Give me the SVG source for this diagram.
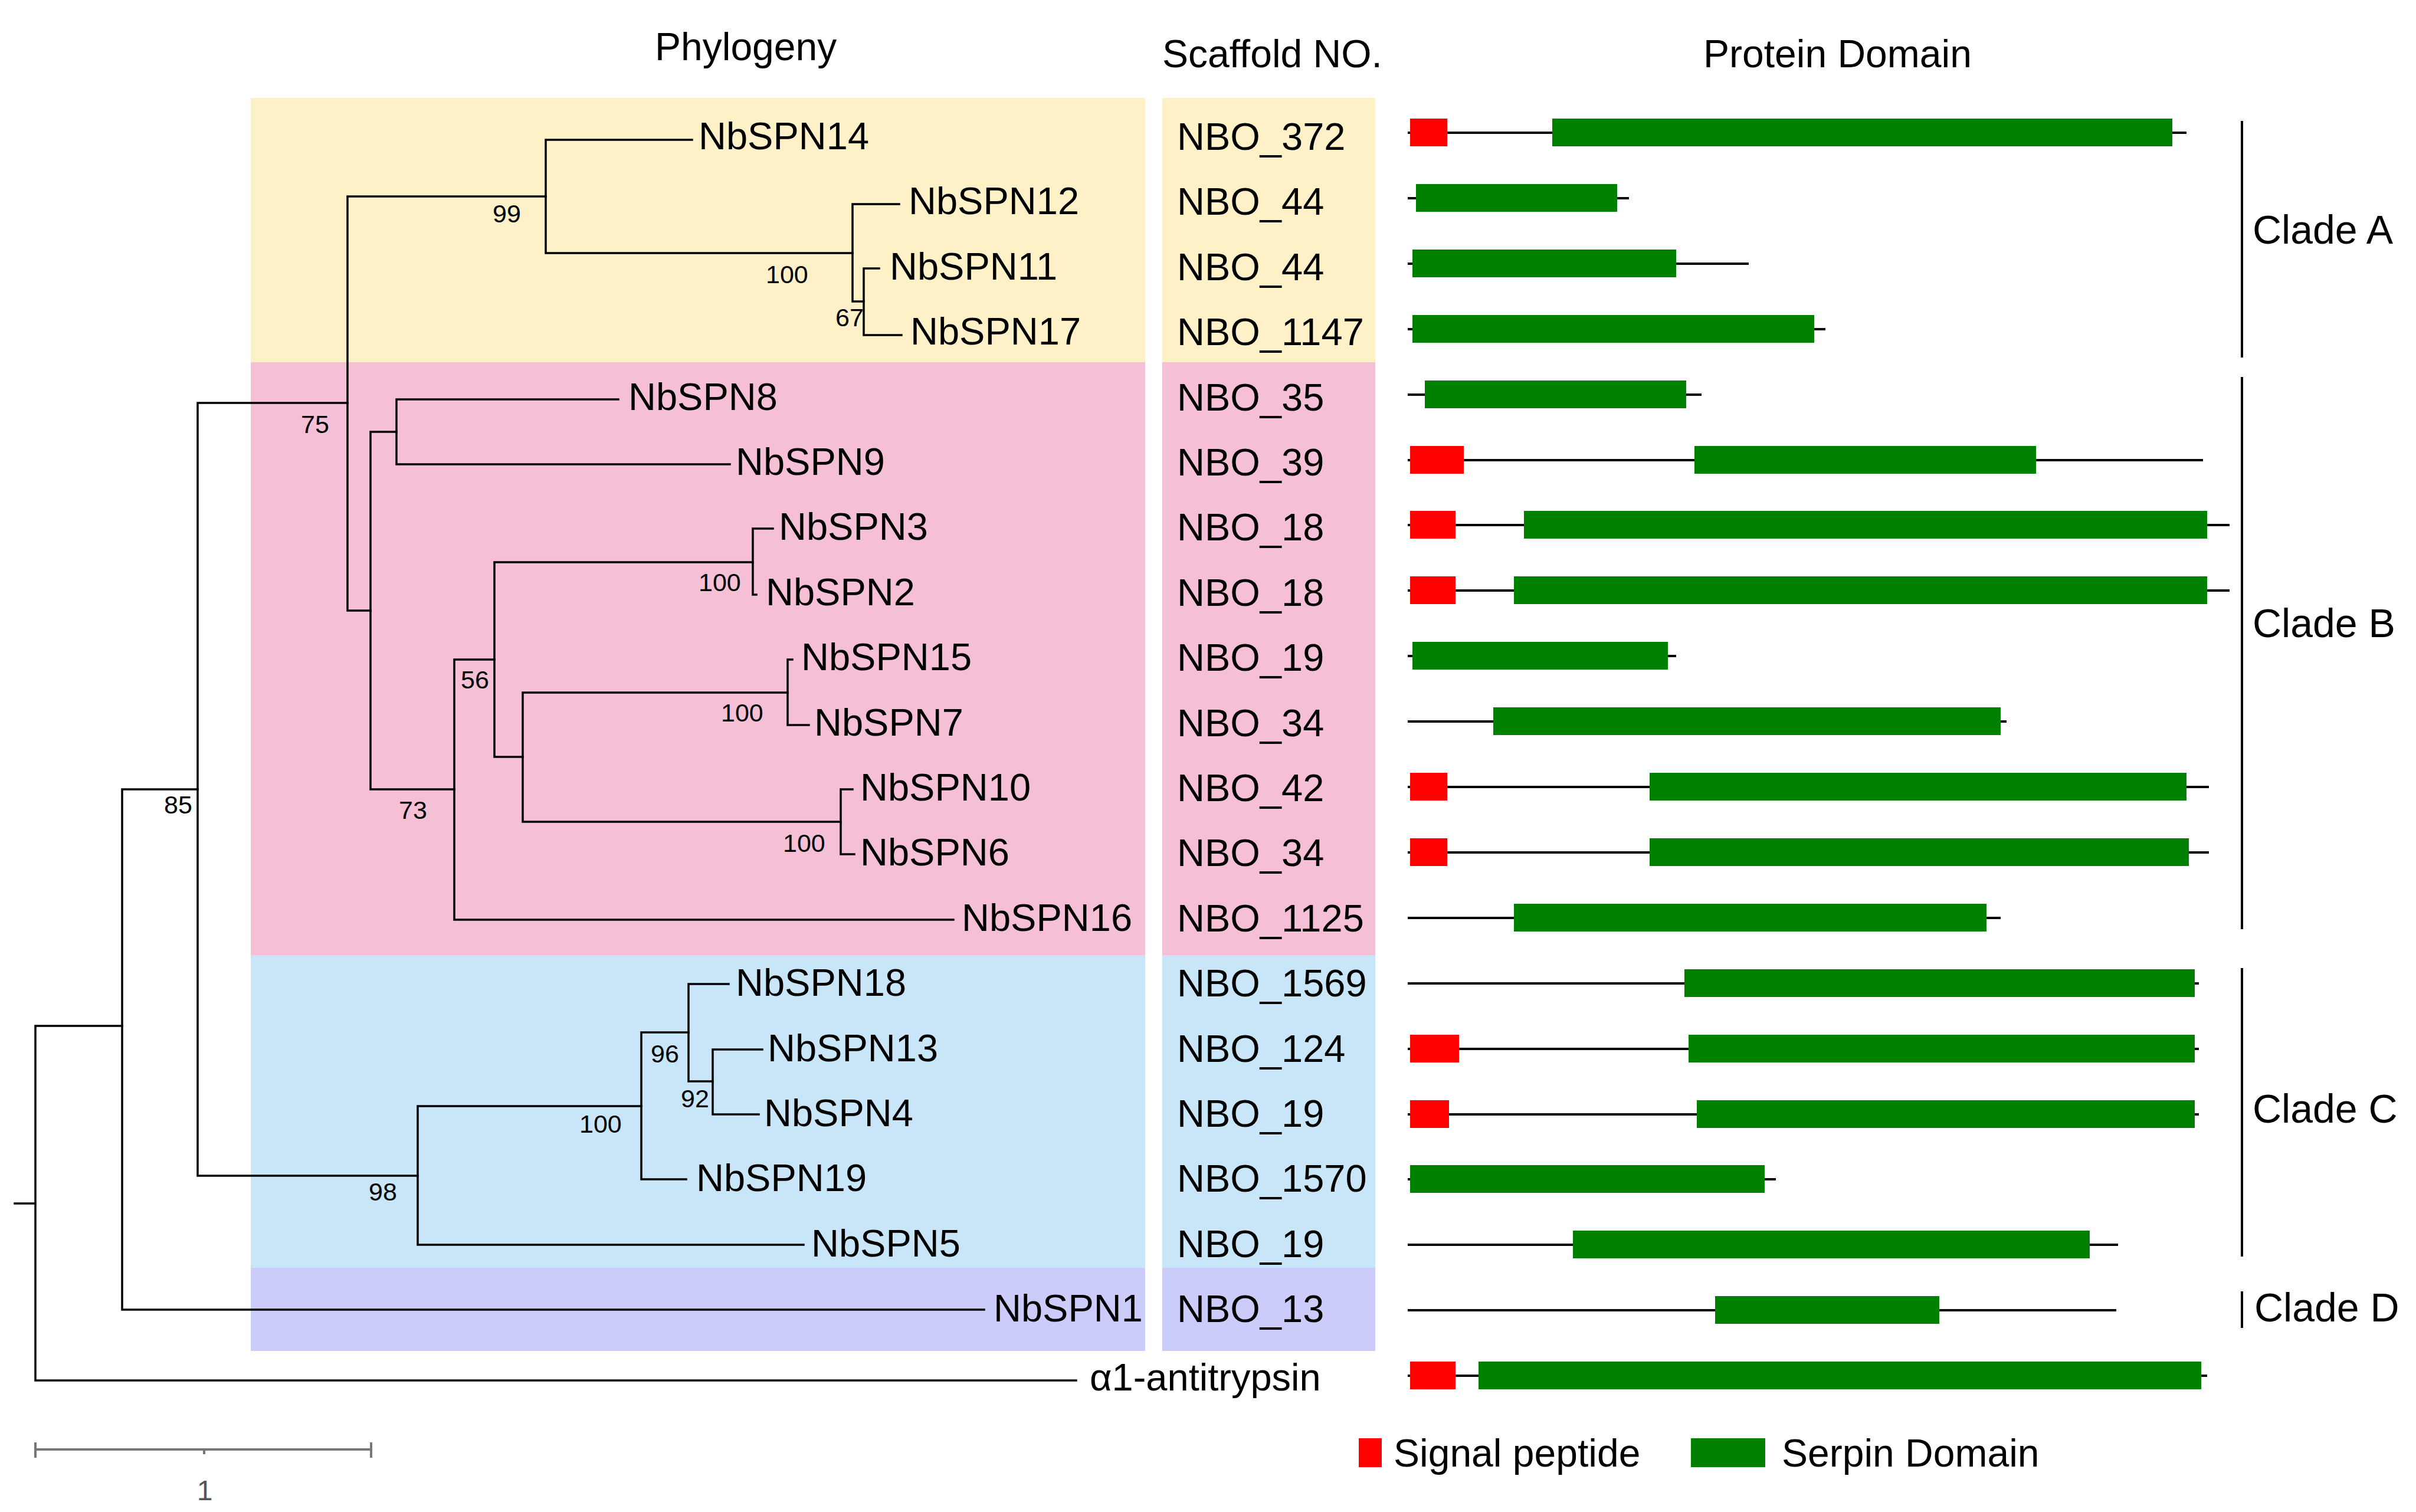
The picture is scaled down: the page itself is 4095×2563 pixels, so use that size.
<svg xmlns="http://www.w3.org/2000/svg" width="4095" height="2563" viewBox="0 0 4095 2563">
<style>
text{font-family:"Liberation Sans",Arial,sans-serif;fill:#000}
.hdr{font-size:66px}
.tx{font-size:65px}
.bs{font-size:43px}
.cl{font-size:68px}
.br{fill:none;stroke:#000;stroke-width:3.5;stroke-linecap:square}
.dl{stroke:#000;stroke-width:4}
.sp{fill:#ff0000}
.sd{fill:#008000}
.cb{stroke:#000;stroke-width:4}
</style>
<rect width="4095" height="2563" fill="#fff"/>
<g id="backgrounds">
<rect x="425" y="166" width="1516" height="448" fill="#fef1c8"/>
<rect x="425" y="614" width="1516" height="1005" fill="#f5c0d6"/>
<rect x="425" y="1619" width="1516" height="530" fill="#c8e6f8"/>
<rect x="425" y="2149" width="1516" height="141" fill="#ccccfa"/>
<rect x="1970" y="166" width="361" height="448" fill="#fef1c8"/>
<rect x="1970" y="614" width="361" height="1005" fill="#f5c0d6"/>
<rect x="1970" y="1619" width="361" height="530" fill="#c8e6f8"/>
<rect x="1970" y="2149" width="361" height="141" fill="#ccccfa"/>
</g>
<g id="headers">
<text class="hdr" x="1110" y="102">Phylogeny</text>
<text class="hdr" x="1970" y="114">Scaffold NO.</text>
<text class="hdr" x="2887" y="114">Protein Domain</text>
</g>
<g id="connectors">
<path class="br" d="M25,2040H60M60,1739V2340M60,1739H207M60,2340H1824"/>
<path class="br" d="M207,1338V2220M207,1338H335M207,2220H1668"/>
<path class="br" d="M335,683V1993M335,683H589M335,1993H708"/>
<path class="br" d="M589,333V1035M589,333H925M589,1035H628"/>
<path class="br" d="M925,237V429M925,237H1173M925,429H1445"/>
<path class="br" d="M1445,346V511M1445,346H1524M1445,511H1464"/>
<path class="br" d="M1464,455V568M1464,455H1490M1464,568H1528"/>
<path class="br" d="M628,732V1338M628,732H672M628,1338H770"/>
<path class="br" d="M672,677V787M672,677H1048M672,787H1237"/>
<path class="br" d="M770,1118V1559M770,1118H838M770,1559H1616"/>
<path class="br" d="M838,953V1283M838,953H1276M838,1283H886"/>
<path class="br" d="M1276,896V1008M1276,896H1310M1276,1008H1282"/>
<path class="br" d="M886,1174V1393M886,1174H1335M886,1393H1425"/>
<path class="br" d="M1335,1118V1229M1335,1118H1343M1335,1229H1371"/>
<path class="br" d="M1425,1338V1448M1425,1338H1445M1425,1448H1448"/>
<path class="br" d="M708,1875V2110M708,1875H1087M708,2110H1362"/>
<path class="br" d="M1087,1750V1999M1087,1750H1167M1087,1999H1163"/>
<path class="br" d="M1167,1668V1833M1167,1668H1235M1167,1833H1208"/>
<path class="br" d="M1208,1779V1889M1208,1779H1292M1208,1889H1286"/>
</g>
<g id="bootstrap">
<text class="bs" x="835" y="377">99</text>
<text class="bs" x="1298" y="480">100</text>
<text class="bs" x="1416" y="553">67</text>
<text class="bs" x="510" y="734">75</text>
<text class="bs" x="1184" y="1002">100</text>
<text class="bs" x="781" y="1167">56</text>
<text class="bs" x="1222" y="1223">100</text>
<text class="bs" x="676" y="1388">73</text>
<text class="bs" x="1327" y="1444">100</text>
<text class="bs" x="278" y="1379">85</text>
<text class="bs" x="1103" y="1801">96</text>
<text class="bs" x="1154" y="1877">92</text>
<text class="bs" x="982" y="1920">100</text>
<text class="bs" x="625" y="2035">98</text>
</g>
<g id="taxa">
<g id="NbSPN14"><text class="tx" x="1184" y="253">NbSPN14</text><text class="tx" x="1995" y="254">NBO_372</text></g>
<g id="NbSPN12"><text class="tx" x="1540" y="363">NbSPN12</text><text class="tx" x="1995" y="364">NBO_44</text></g>
<g id="NbSPN11"><text class="tx" x="1508" y="474">NbSPN11</text><text class="tx" x="1995" y="475">NBO_44</text></g>
<g id="NbSPN17"><text class="tx" x="1543" y="584">NbSPN17</text><text class="tx" x="1995" y="585">NBO_1147</text></g>
<g id="NbSPN8"><text class="tx" x="1065" y="695">NbSPN8</text><text class="tx" x="1995" y="696">NBO_35</text></g>
<g id="NbSPN9"><text class="tx" x="1247" y="805">NbSPN9</text><text class="tx" x="1995" y="806">NBO_39</text></g>
<g id="NbSPN3"><text class="tx" x="1320" y="915">NbSPN3</text><text class="tx" x="1995" y="916">NBO_18</text></g>
<g id="NbSPN2"><text class="tx" x="1298" y="1026">NbSPN2</text><text class="tx" x="1995" y="1027">NBO_18</text></g>
<g id="NbSPN15"><text class="tx" x="1358" y="1136">NbSPN15</text><text class="tx" x="1995" y="1137">NBO_19</text></g>
<g id="NbSPN7"><text class="tx" x="1380" y="1247">NbSPN7</text><text class="tx" x="1995" y="1248">NBO_34</text></g>
<g id="NbSPN10"><text class="tx" x="1458" y="1357">NbSPN10</text><text class="tx" x="1995" y="1358">NBO_42</text></g>
<g id="NbSPN6"><text class="tx" x="1458" y="1467">NbSPN6</text><text class="tx" x="1995" y="1468">NBO_34</text></g>
<g id="NbSPN16"><text class="tx" x="1630" y="1578">NbSPN16</text><text class="tx" x="1995" y="1579">NBO_1125</text></g>
<g id="NbSPN18"><text class="tx" x="1247" y="1688">NbSPN18</text><text class="tx" x="1995" y="1689">NBO_1569</text></g>
<g id="NbSPN13"><text class="tx" x="1301" y="1799">NbSPN13</text><text class="tx" x="1995" y="1800">NBO_124</text></g>
<g id="NbSPN4"><text class="tx" x="1295" y="1909">NbSPN4</text><text class="tx" x="1995" y="1910">NBO_19</text></g>
<g id="NbSPN19"><text class="tx" x="1180" y="2019">NbSPN19</text><text class="tx" x="1995" y="2020">NBO_1570</text></g>
<g id="NbSPN5"><text class="tx" x="1375" y="2130">NbSPN5</text><text class="tx" x="1995" y="2131">NBO_19</text></g>
<g id="NbSPN1"><text class="tx" x="1684" y="2240">NbSPN1</text><text class="tx" x="1995" y="2241">NBO_13</text></g>
<g id="a1-antitrypsin"><text class="tx" x="1847" y="2357">α1-antitrypsin</text></g>
</g>
<g id="domains">
<g id="dom0"><line class="dl" x1="2386" y1="225" x2="3706" y2="225"/><rect class="sp" x="2390" y="201" width="63" height="47"/><rect class="sd" x="2631" y="201" width="1051" height="47"/></g>
<g id="dom1"><line class="dl" x1="2386" y1="336" x2="2761" y2="336"/><rect class="sd" x="2400" y="312" width="341" height="47"/></g>
<g id="dom2"><line class="dl" x1="2386" y1="447" x2="2964" y2="447"/><rect class="sd" x="2394" y="423" width="447" height="47"/></g>
<g id="dom3"><line class="dl" x1="2386" y1="558" x2="3094" y2="558"/><rect class="sd" x="2394" y="534" width="681" height="47"/></g>
<g id="dom4"><line class="dl" x1="2386" y1="669" x2="2884" y2="669"/><rect class="sd" x="2415" y="645" width="443" height="47"/></g>
<g id="dom5"><line class="dl" x1="2386" y1="780" x2="3734" y2="780"/><rect class="sp" x="2390" y="756" width="91" height="47"/><rect class="sd" x="2872" y="756" width="579" height="47"/></g>
<g id="dom6"><line class="dl" x1="2386" y1="890" x2="3779" y2="890"/><rect class="sp" x="2390" y="866" width="77" height="47"/><rect class="sd" x="2583" y="866" width="1158" height="47"/></g>
<g id="dom7"><line class="dl" x1="2386" y1="1001" x2="3779" y2="1001"/><rect class="sp" x="2390" y="977" width="77" height="47"/><rect class="sd" x="2566" y="977" width="1175" height="47"/></g>
<g id="dom8"><line class="dl" x1="2386" y1="1112" x2="2841" y2="1112"/><rect class="sd" x="2394" y="1088" width="433" height="47"/></g>
<g id="dom9"><line class="dl" x1="2386" y1="1223" x2="3401" y2="1223"/><rect class="sd" x="2531" y="1199" width="860" height="47"/></g>
<g id="dom10"><line class="dl" x1="2386" y1="1334" x2="3744" y2="1334"/><rect class="sp" x="2390" y="1310" width="63" height="47"/><rect class="sd" x="2796" y="1310" width="910" height="47"/></g>
<g id="dom11"><line class="dl" x1="2386" y1="1445" x2="3744" y2="1445"/><rect class="sp" x="2390" y="1421" width="63" height="47"/><rect class="sd" x="2796" y="1421" width="914" height="47"/></g>
<g id="dom12"><line class="dl" x1="2386" y1="1556" x2="3391" y2="1556"/><rect class="sd" x="2566" y="1532" width="801" height="47"/></g>
<g id="dom13"><line class="dl" x1="2386" y1="1667" x2="3727" y2="1667"/><rect class="sd" x="2855" y="1643" width="865" height="47"/></g>
<g id="dom14"><line class="dl" x1="2386" y1="1778" x2="3727" y2="1778"/><rect class="sp" x="2390" y="1754" width="83" height="47"/><rect class="sd" x="2862" y="1754" width="858" height="47"/></g>
<g id="dom15"><line class="dl" x1="2386" y1="1889" x2="3727" y2="1889"/><rect class="sp" x="2390" y="1865" width="66" height="47"/><rect class="sd" x="2876" y="1865" width="844" height="47"/></g>
<g id="dom16"><line class="dl" x1="2386" y1="1999" x2="3010" y2="1999"/><rect class="sd" x="2390" y="1975" width="601" height="47"/></g>
<g id="dom17"><line class="dl" x1="2386" y1="2110" x2="3590" y2="2110"/><rect class="sd" x="2666" y="2086" width="876" height="47"/></g>
<g id="dom18"><line class="dl" x1="2386" y1="2221" x2="3587" y2="2221"/><rect class="sd" x="2907" y="2197" width="380" height="47"/></g>
<g id="dom19"><line class="dl" x1="2386" y1="2332" x2="3741" y2="2332"/><rect class="sp" x="2390" y="2308" width="77" height="47"/><rect class="sd" x="2506" y="2308" width="1225" height="47"/></g>
</g>
<g id="clades">
<line class="cb" x1="3800" y1="205" x2="3800" y2="606"/><text class="cl" x="3818" y="413">Clade A</text>
<line class="cb" x1="3800" y1="639" x2="3800" y2="1575"/><text class="cl" x="3818" y="1080">Clade B</text>
<line class="cb" x1="3800" y1="1641" x2="3800" y2="2130"/><text class="cl" x="3818" y="1903">Clade C</text>
<line class="cb" x1="3800" y1="2189" x2="3800" y2="2251"/><text class="cl" x="3821" y="2240">Clade D</text>
</g>
<g id="scalebar" stroke="#777" stroke-width="4" fill="none">
<path d="M60,2457H629M60,2445V2471M629,2445V2471M346,2457V2465"/>
</g>
<text x="347" y="2543" font-size="48" fill="#555" text-anchor="middle" style="fill:#555">1</text>
<g id="legend">
<rect class="sp" x="2303" y="2438" width="39" height="49"/><text class="hdr" x="2362" y="2486">Signal peptide</text>
<rect class="sd" x="2866" y="2438" width="126" height="49"/><text class="hdr" x="3020" y="2486">Serpin Domain</text>
</g>
</svg>
